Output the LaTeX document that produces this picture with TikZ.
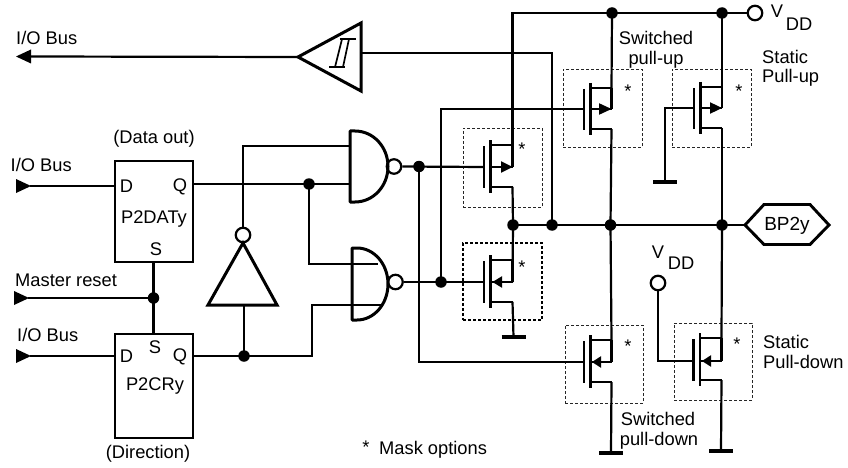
\documentclass[tikz,border=0pt]{standalone}
\usepackage{fontspec}
\setmainfont{Liberation Sans}
\usetikzlibrary{calc}
\tikzset{
  wire/.style={line width=2.2pt,line join=miter,line cap=butt},
  gatebody/.style={line width=3pt,line join=round,line cap=round},
  plate/.style={line width=2.8pt},
  dot/.style={circle,fill=black,draw=none,minimum size=11.5pt,inner sep=0pt},
  bubble/.style={circle,draw=black,fill=white,line width=2.2pt,minimum size=14.5pt,inner sep=0pt},
  ffbox/.style={draw=black,line width=2.1pt,inner sep=0pt,anchor=north west},
  maskbox/.style={draw=black!85,line width=.9pt,dash pattern=on 3pt off 2pt,inner sep=0pt},
  maskboxb/.style={draw=black,line width=1.5pt,dash pattern=on 3pt off 2pt,inner sep=0pt},
  lbl/.style={font=\fontsize{18.3}{20}\selectfont,inner sep=0pt},
  lblw/.style={lbl,anchor=west},
  star/.style={font=\fontsize{18.3}{20}\selectfont,inner sep=0pt},
  tip/.style={fill=black,draw=none},
  gnd/.style={line width=4.4pt}
}
% \fet{name}{plate x}{top y}{mid y}{bottom y}{wire x}{arrow tip x}{arrow base x}
\newcommand{\fet}[8]{%
  \coordinate (#1-g) at (#2,#4);
  \coordinate (#1-d) at (#6,#3);
  \coordinate (#1-m) at (#6,#4);
  \coordinate (#1-s) at (#6,#5);
  \draw[plate] (#2,#3+1) -- (#2,#5+1);
  \draw[plate] (#2+6.5,#3-5) -- (#2+6.5,#5+6);
  \draw[wire] (#2+6.5,#3) -- (#1-d);
  \draw[wire] (#2+6.5,#4) -- (#1-m);
  \draw[wire] (#2+6.5,#5) -- (#1-s);
  \draw[wire] (#1-d) -- (#1-m);
  \fill[tip] (#7,#4) -- (#8,#4-5.8) -- (#8,#4+5.8) -- cycle;
}
% \gndbar{name}{x}{y}
\newcommand{\gndbar}[3]{%
  \coordinate (#1) at (#2,#3);
  \draw[gnd] (#2-12,#3) -- (#2+12,#3);
}
\begin{document}
\begin{tikzpicture}[x=1pt,y=-1pt]
\useasboundingbox (0,0) rectangle (848,468);

% mask option boxes
\node[maskbox,minimum width=79pt,minimum height=78pt] (mb1) at (602.5,108) {};
\node[maskbox,minimum width=79pt,minimum height=78pt] (mb2) at (711.5,108) {};
\node[maskbox,minimum width=79pt,minimum height=79pt] (mb3) at (502.5,167.5) {};
\node[maskboxb,minimum width=79pt,minimum height=77pt] (mb4) at (502.5,281.5) {};
\node[maskbox,minimum width=78pt,minimum height=78pt] (mb5) at (604,364) {};
\node[maskbox,minimum width=78pt,minimum height=77pt] (mb6) at (713,361.5) {};

% transistors
\fet{t1}{484}{145}{167}{187}{512.5}{512.5}{501}
\fet{t2}{484}{260}{282}{302}{512.5}{492.5}{502}
\fet{t3}{584}{88}{109}{129}{611.5}{611.5}{599}
\fet{t4}{694}{87}{108}{128}{722}{722}{710}
\fet{t5}{584}{340}{362}{382}{611.5}{592}{601}
\fet{t6}{693.5}{338}{361}{380}{721.5}{702}{711}

% ground bars
\gndbar{g2}{513.5}{337}
\gndbar{g4}{665}{182}
\gndbar{g5}{611}{453}
\gndbar{g6}{721}{451}

% flip-flops
\node[ffbox,minimum width=78pt,minimum height=101pt] (ff1) at (114,160) {};
\node[ffbox,minimum width=78pt,minimum height=104pt] (ff2) at (114,333) {};
\coordinate (ff1-d) at (114,185);
\coordinate (ff1-q) at (192,184);
\coordinate (ff1-s) at (153.5,261);
\coordinate (ff2-d) at (114,356);
\coordinate (ff2-q) at (192,356);
\coordinate (ff2-s) at (153.5,333);

% NAND gates
\coordinate (n1-a) at (350,146);
\coordinate (n1-b) at (350,184);
\coordinate (n2-a) at (378,264);
\coordinate (n2-b) at (381,305);

% junctions
\node[dot] (jq) at (309,184) {};
\node[dot] (jinv) at (244,356) {};
\node[dot] (jmr) at (153.5,298) {};
\node[dot] (jn1) at (419,166.5) {};
\node[dot] (jn2) at (441,282) {};
\node[dot] (jv1) at (612,13) {};
\node[dot] (jv2) at (722,13) {};
\node[dot] (jb1) at (513,225) {};
\node[dot] (jb2) at (552,225) {};
\node[dot] (jb3) at (610.5,225) {};
\node[dot] (jb4) at (722,225) {};

% connectors (under the pins)
\coordinate (hexl) at (745,225);
\coordinate (st-o) at (298,57);
\coordinate (st-i) at (361,53);
\coordinate (inv-b) at (244,305);
\coordinate (a1) at (30,56.5);
\coordinate (a2) at (30,186);
\coordinate (a3) at (28,298);
\coordinate (a4) at (30,356);
\node[bubble] (vdd1) at (755,13) {};
\node[bubble] (vdd2) at (658,283) {};
\node[bubble] (bub1) at (394,166.5) {};
\node[bubble] (bub2) at (395.5,282) {};
\node[bubble] (bubi) at (243,235) {};

\draw[wire] (st-o) -- (a1);
\draw[wire] (a2) -- (ff1.west |- a2);
\draw[wire] (a3) -- (jmr.center);
\draw[wire] (a4) -- (ff2-d);
\draw[wire] (ff1-s) -- (jmr.center) -- (ff2-s);
\draw[wire] (ff1-q) -- (n1-b);
\draw[wire] (jq.center) -- (309,264) -- (n2-a);
\draw[wire] (ff2-q) -- (312,356) -- (312,305) -- (n2-b);
\draw[wire] (bubi.north) -- (243,146) -- (n1-a);
\draw[wire] (inv-b) -- (jinv.center);
\draw[wire] (bub1.east) -- (t1-g);
\draw[wire] (bub2.east) -- (t2-g);
\draw[wire] (jn1.center) -- (419,362) -- (t5-g);
\draw[wire] (jn2.center) -- (441,109) -- (t3-g);
\draw[wire] (st-i) -- (552,53) -- (jb2.center);
\draw[wire] (t1-d) -- (512.5,13) -- (vdd1.west);
\draw[wire] (jv1.center) -- (t3-d);
\draw[wire] (jv2.center) -- (t4-d);
\draw[wire] (t1-s) -- (jb1.center);
\draw[wire] (jb1.center) -- (hexl);
\draw[wire] (t3-s) -- (jb3.center);
\draw[wire] (t4-s) -- (jb4.center);
\draw[wire] (jb1.center) -- (t2-m);
\draw[wire] (t2-s) -- (g2);
\draw[wire] (jb3.center) -- (t5-d);
\draw[wire] (jb4.center) -- (t6-d);
\draw[wire] (t5-s) -- (g5);
\draw[wire] (t6-s) -- (g6);
\draw[wire] (t4-g) -- (665,108) -- (g4);
\draw[wire] (vdd2.south) -- (658,361) -- (t6-g);

% hexagon
\draw[line width=2.9pt,line join=miter,fill=white] (hexl) -- (764,204.5) -- (810,204.5) -- (829,225) -- (810,244.5) -- (764,244.5) -- cycle;
\node[lbl,font=\fontsize{19}{20}\selectfont] (bp) at (787,225.5) {BP2y};

% NAND bodies
\draw[gatebody] (355,131) -- (350,131) -- (350,202) -- (355,202) arc[start angle=90,end angle=-90,x radius=33,y radius=35.5];
\draw[gatebody] (357,248) -- (352,248) -- (352,320) -- (357,320) arc[start angle=90,end angle=-90,x radius=31,y radius=36];

% Schmitt trigger
\draw[gatebody,line join=miter] (st-o) -- (361,23) -- (361,91) -- cycle;
\draw[line width=1.2pt] (340,39) -- (356,39) (329,67) -- (345,67);
\draw[line width=1.7pt] (335,67) -- (342,39) (343,67) -- (349,39);

% inverter
\draw[gatebody,line join=miter] (243,243) -- (208,305) -- (277,305) -- cycle;

% input and output arrow heads
\fill[tip] (16,56.5) -- (31,49.5) -- (31,63.5) -- cycle;
\fill[tip] (31,186) -- (16,179) -- (16,193) -- cycle;
\fill[tip] (29,298) -- (14,291) -- (14,305) -- cycle;
\fill[tip] (31,356) -- (16,349) -- (16,363) -- cycle;

% labels
\node[lblw] (l1) at (16,38) {I/O Bus};
\node[lblw] (l2) at (10.5,165) {I/O Bus};
\node[lblw] (l3) at (15,280) {Master reset};
\node[lblw] (l4) at (17,335) {I/O Bus};
\node[lbl] (l5) at (154,139) {(Data out)};
\node[lbl] (l6) at (148,454) {(Direction)};
\node[lbl] (d1) at (126.5,186.5) {D};
\node[lbl] (q1) at (180,186.5) {Q};
\node[lbl] (p1) at (154,219) {P2DATy};
\node[lbl] (s1) at (156,249) {S};
\node[lbl] (d2) at (126.5,356.5) {D};
\node[lbl] (q2) at (180,356.5) {Q};
\node[lbl] (s2) at (155,347) {S};
\node[lbl] (p2) at (155,386) {P2CRy};
\node[lbl] (v1) at (777,11) {V};
\node[lbl] (v1d) at (799,24) {DD};
\node[lbl] (v2) at (658,252) {V};
\node[lbl] (v2d) at (681,263) {DD};
\node[lbl] (sw1) at (656,38) {Switched};
\node[lbl] (sw2) at (656,60) {pull-up};
\node[lblw] (st1) at (762,57) {Static};
\node[lblw] (st2) at (762,78) {Pull-up};
\node[lblw] (st3) at (763,342) {Static};
\node[lblw] (st4) at (763,362) {Pull-down};
\node[lbl] (sw3) at (658,419) {Switched};
\node[lbl] (sw4) at (659,441) {pull-down};
\node[lbl] (m0) at (366,447) {*};
\node[lblw] (m1) at (379,450) {Mask options};
\node[star] (s3) at (628,91) {*};
\node[star] (s4) at (739,91) {*};
\node[star] (s5) at (522,149) {*};
\node[star] (s6) at (522,267) {*};
\node[star] (s7) at (628,346) {*};
\node[star] (s8) at (737,344) {*};
\end{tikzpicture}
\end{document}
